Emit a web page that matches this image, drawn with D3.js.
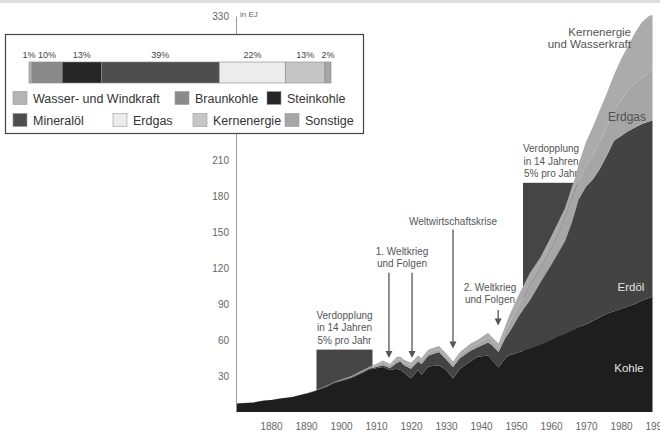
<!DOCTYPE html>
<html>
<head>
<meta charset="utf-8">
<script src="https://cdn.jsdelivr.net/npm/d3@7"></script>
<style>
  body { margin: 0; background: #fff; }
  svg { font-family: "Liberation Sans", Arial, sans-serif; display: block; }
</style>
</head>
<body>
<svg id="chart"></svg>
<script>
// Weltenergieverbrauch in EJ (gestapelt)
const years  = [1870,1875,1878,1880,1883,1886,1888,1891,1893,1896,1898,1900,1903,1906,1908,1910,1912,1914,1916,1917,1918,1920,1922,1923,1925,1928,1930,1932,1934,1937,1939,1942,1943,1945,1947,1948,1951,1954,1957,1960,1962,1964,1966,1967,1968,1970,1972,1974,1976,1978,1980,1982,1984,1986,1988,1989];
const kohle  = [7,8,9.5,10,11.5,12.5,14,16,18,21,24,25.5,28,32,35,36.5,37.5,35,36,35,33,28,35,31,38,39,35,28,36,42,46,47,44,37,45,47,50,53,56,60,63,65,68,69,71,73,76,79,82,84,86,88,90,93,95,96];
const erdoel = [0,0,0,0,0,0,0,0.2,0.2,0.3,0.3,0.5,0.7,0.8,0.8,1,1.5,1.7,5,7,6,8,7,9,9,11,9,9.5,9,9,8,11,12,13,17,19,31,40,52,62,69,77,90,99,107,115,118,124,132,142,144,146,147,147,147,147];
const erdgas = [0,0,0,0,0,0,0,0.1,0.2,0.3,0.3,0.5,0.5,0.7,0.8,1,2,1.6,2.5,2,2,2.5,2.5,3,2.5,2.5,2.5,2.5,2.5,3,3,4,4,3,5,7,9,13,12,14,16,21,20,18,16,17,20,22,24,26,30,34,37,39,41,42];
const kern   = [0,0,0,0,0,0,0,0.2,0.2,0.4,0.4,0.5,0.8,1,0.9,1.5,2,1.7,2.5,2,2.5,2.5,2.5,2,2.5,2.5,2.5,2,2.5,3,3,4,3,4,5,7,9,10,9,10,10,7,10,10,14,20,24,27,28,29,34,37,42,46,47,46];

const seriesKeys = ["kohle", "erdoel", "erdgas", "kern"];
const seriesColors = ["#1e1e1e", "#434343", "#a6a6a6", "#ababab"];

const xTicks = [1880,1890,1900,1910,1920,1930,1940,1950,1960,1970,1980,1990];
// 240-300 liegen unter dem Legendenkasten
const yTicks = [30,60,90,120,150,180,210,330];

// Verdopplungs-Zeiträume: Jahre und Höhe
const doublingFrom = [1893, 1952];
const doublingTo   = [1909, 1968];
const doublingTop  = [52, 191];

// Ereignisse: Pfeile (Jahr, Start-, Endwert)
const eventYears = [1913.7, 1920.3, 1932, 1944.9];
const eventFrom  = [116, 116, 152, 85];
const eventTo    = [45, 45, 53, 72];

// Legende (Primärenergie-Anteile)
const legendNames  = ["Wasser- und Windkraft","Braunkohle","Steinkohle","Mineralöl","Erdgas","Kernenergie","Sonstige"];
const legendShares = [1,10,13,39,22,13,2];
const legendColors = ["#b4b4b4","#8a8a8a","#262626","#4e4e4e","#ececec","#c6c6c6","#a6a6a6"];

const width = 660, height = 432;
const svg = d3.select("#chart").attr("width", width).attr("height", height);

svg.append("rect").attr("width", width).attr("height", 3).attr("fill", "#dedede");

const x = d3.scaleLinear().domain([1870, 1990]).range([236, 656]);
const y = d3.scaleLinear().domain([0, 330]).range([412, 16]);

const table = years.map((yr, i) => ({
  year: yr, kohle: kohle[i], erdoel: erdoel[i], erdgas: erdgas[i], kern: kern[i]
}));
const stacked = d3.stack().keys(seriesKeys)(table);

// doubling boxes + text (behind the areas)
const dbl = svg.append("g");
doublingFrom.forEach((f, i) => {
  dbl.append("rect")
    .attr("x", x(f)).attr("y", y(doublingTop[i]))
    .attr("width", x(doublingTo[i]) - x(f))
    .attr("height", y(0) - y(doublingTop[i]))
    .attr("fill", "#454545");
  const cx = (x(f) + x(doublingTo[i])) / 2;
  const t = dbl.append("text")
    .attr("x", cx).attr("y", y(doublingTop[i]) - 31)
    .attr("text-anchor", "middle").attr("font-size", 10).attr("fill", "#555");
  ["Verdopplung", "in 14 Jahren", "5% pro Jahr"].forEach((s, j) => {
    t.append("tspan").attr("x", cx).attr("dy", j ? 12.8 : 0).text(s);
  });
});

// stacked areas
const area = d3.area()
  .x(d => x(d.data.year))
  .y0(d => y(d[0]))
  .y1(d => y(d[1]));

svg.append("g").selectAll("path")
  .data(stacked)
  .join("path")
  .attr("d", area)
  .attr("fill", (d, i) => seriesColors[i]);

// axes
const yAxis = svg.append("g")
  .attr("transform", `translate(${x(1870)},0)`)
  .call(d3.axisLeft(y).tickValues(yTicks).tickSize(0).tickSizeOuter(0).tickPadding(7));
yAxis.select(".domain").attr("stroke", "#999");
yAxis.selectAll("text").attr("font-size", 10).attr("fill", "#666")
  .attr("font-family", "Liberation Sans, Arial, sans-serif");

const xAxis = svg.append("g")
  .attr("transform", `translate(0,${y(0)})`)
  .call(d3.axisBottom(x).tickValues(xTicks).tickFormat(d3.format("d")).tickSize(0).tickPadding(11));
xAxis.select(".domain").remove();
xAxis.selectAll("text").attr("font-size", 10).attr("fill", "#666")
  .attr("font-family", "Liberation Sans, Arial, sans-serif");

svg.append("text").attr("x", x(1870) + 4).attr("y", 17)
  .attr("font-size", 8).attr("fill", "#666").text("in EJ");

// event arrows
const ev = svg.append("g");
eventYears.forEach((yr, i) => {
  const ax = x(yr), y1 = y(eventFrom[i]), y2 = y(eventTo[i]);
  ev.append("line").attr("x1", ax).attr("x2", ax).attr("y1", y1).attr("y2", y2 - 5)
    .attr("stroke", "#555").attr("stroke-width", 1.3);
  ev.append("path")
    .attr("d", `M${ax - 3.5},${y2 - 7}L${ax + 3.5},${y2 - 7}L${ax},${y2}Z`)
    .attr("fill", "#555");
});
function label(lines, cx, cy, opts) {
  const t = svg.append("text").attr("x", cx).attr("y", cy)
    .attr("text-anchor", opts.anchor || "middle")
    .attr("font-size", opts.size || 10).attr("fill", opts.color || "#555");
  lines.forEach((s, j) => t.append("tspan").attr("x", cx).attr("dy", j ? opts.lh || 12 : 0).text(s));
}
label(["1. Weltkrieg", "und Folgen"], 402, 255, {lh: 11.5});
label(["Weltwirtschaftskrise"], 453, 225, {});
label(["2. Weltkrieg", "und Folgen"], 490, 291, {lh: 12});

label(["Kernenergie", "und Wasserkraft"], 631, 36, {anchor: "end", size: 11.5, lh: 12, color: "#555"});
label(["Erdgas"], 627, 121, {size: 12, color: "#505050"});
label(["Erdöl"], 631, 291, {size: 11.5, color: "#e4e4e4"});
label(["Kohle"], 629, 372, {size: 11.5, color: "#e4e4e4"});

// legend box
const lg = svg.append("g");
lg.append("rect").attr("x", 5.5).attr("y", 34.5).attr("width", 358).attr("height", 99)
  .attr("fill", "#fff").attr("stroke", "#444").attr("stroke-width", 1.2);

const share = d3.scaleLinear().domain([0, 100]).range([29, 331]);
let acc = 0;
legendShares.forEach((s, i) => {
  const x0 = share(acc), x1 = share(acc + s);
  lg.append("rect").attr("x", x0).attr("y", 62).attr("width", x1 - x0).attr("height", 21)
    .attr("fill", legendColors[i]).attr("stroke", "#888").attr("stroke-width", 0.6);
  lg.append("text").attr("x", (x0 + x1) / 2 + (i === 0 ? -1.5 : 0)).attr("y", 58)
    .attr("text-anchor", "middle").attr("font-size", 9).attr("fill", "#444")
    .text(s + "%");
  acc += s;
});

const legendRow = [0, 0, 0, 1, 1, 1, 1];
const legendX = [13, 175, 267, 13, 113, 193, 285];
legendNames.forEach((n, i) => {
  const ly = legendRow[i] ? 120 : 98;
  lg.append("rect").attr("x", legendX[i]).attr("y", ly - 6.5).attr("width", 14).attr("height", 13)
    .attr("fill", legendColors[i]).attr("stroke", "#999").attr("stroke-width", 0.6);
  lg.append("text").attr("x", legendX[i] + 20).attr("y", ly + 4.5)
    .attr("font-size", 12.5).attr("fill", "#333").text(n);
});
</script>
</body>
</html>
